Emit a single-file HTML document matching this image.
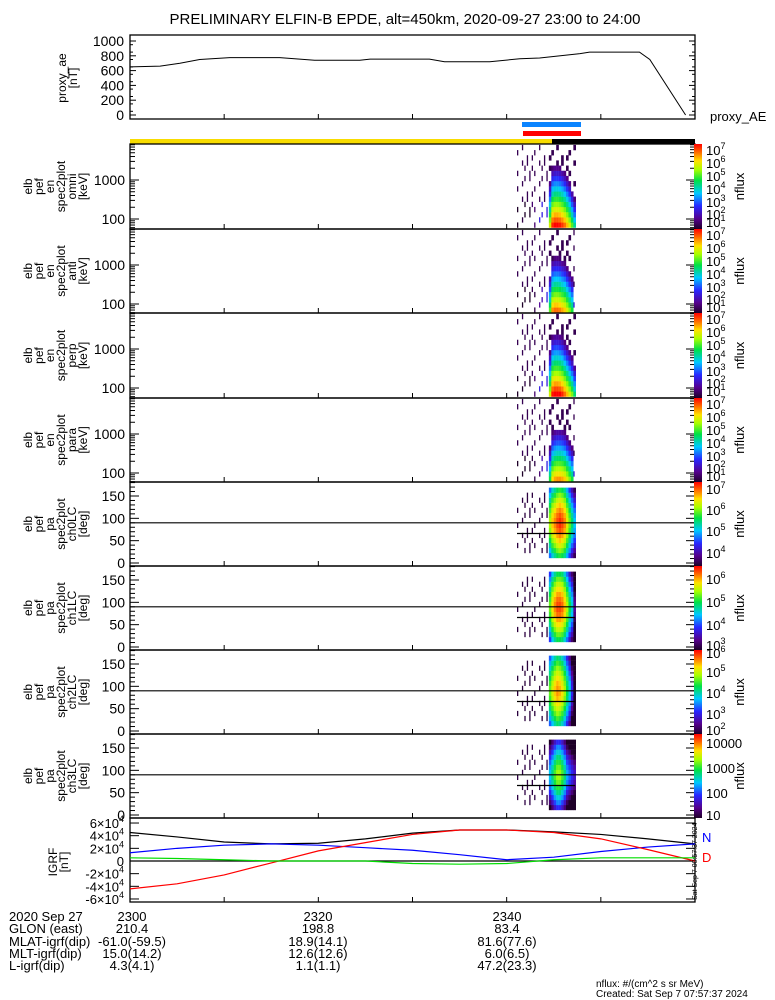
<!DOCTYPE html>
<html><head><meta charset="utf-8"><style>
html,body{margin:0;padding:0;background:#fff;}
svg{display:block;font-family:"Liberation Sans",sans-serif;}
</style></head><body>
<svg id="chart" width="775" height="1000" viewBox="0 0 775 1000" xmlns="http://www.w3.org/2000/svg">
<text x="405" y="24" font-size="15" text-anchor="middle">PRELIMINARY ELFIN-B EPDE, alt=450km, 2020-09-27 23:00 to 24:00</text>
<g id="g"></g>
</svg>
<script>
// ---- data ----
const aeMinutes = [0, 3.2, 5.3, 7.4, 10.6, 15.9, 19.6, 24.4, 25.5, 31.8, 33.4, 38.2, 41.4, 43.5, 47.8, 48.8, 54.1, 55.2, 59.0];
const aeValues  = [650, 660, 700, 750, 775, 775, 740, 740, 755, 755, 720, 720, 760, 770, 830, 850, 850, 750, 0];
const aeTicks = [0, 200, 400, 600, 800, 1000];
const igrfMinutes = [0, 5, 10, 15, 20, 25, 30, 35, 40, 45, 50, 55, 60];
const igrfTotal = [4.5, 3.8, 3.0, 2.7, 2.8, 3.5, 4.4, 4.9, 4.9, 4.6, 4.2, 3.5, 2.7];
const igrfN     = [1.3, 2.0, 2.5, 2.7, 2.5, 2.1, 1.7, 1.0, 0.2, 0.6, 1.5, 2.2, 2.7];
const igrfD     = [-4.4, -3.6, -2.2, -0.3, 1.6, 2.9, 4.2, 4.9, 4.9, 4.5, 3.5, 1.8, 0.0];
const igrfE     = [0.5, 0.4, 0.2, 0.0, 0.0, 0.0, -0.4, -0.5, -0.4, 0.2, 0.5, 0.5, 0.5];
const igrfTicks = [-6, -4, -2, 0, 2, 4, 6];
// spectrogram columns (log10 flux at lowest bin / at 90 deg)
const omniLow = [1,1,1.2,1,1.3,1,1.5,1.5,2.5,2.5,3,3.2,3.5,5.5,6.8,7,7,6.9,6.7,6.4,6,5.5,4.8,4];
const antiLow = [1,1,1,1,1.2,1,1.3,1.2,1.5,1.8,2,2,2.5,4.8,6.2,6.4,6.4,6.3,6.1,5.9,5.5,5,4.5,3.5];
const perpLow = [1,1,1,1.2,1.2,1,1.4,1.5,2.5,2.5,3,3,3.5,5.5,6.9,7.1,7.1,7,6.8,6.4,6,5.5,5,4.2];
const paraLow = [1,1,1,1,1,1,1.2,1.2,1.5,1.5,2,2,2.5,4.5,5.8,6.1,6.2,6.2,6.1,5.9,5.5,5,4.5,3.5];
const ch0Peak = [3,3,3.5,3,3.5,3.5,3.5,3.5,3.8,3.8,3.8,3.8,4,6,6.4,6.6,6.8,6.9,6.8,6.6,6.2,5.8,5.4,5];
const ch1Peak = [3,3,3,3,3,3,3.2,3,3.2,3.2,3.2,3.2,3.4,5.3,5.8,6.1,6.3,6.3,6.2,5.9,5.5,5,4.6,3.5];
const ch2Peak = [2,2,2,2,2,2,2.2,2,2.2,2.2,2.2,2.2,2.4,4.6,5,5.3,5.5,5.4,5.2,4.8,4.3,3.8,3,2];
const ch3Peak = [1.2,1.2,1.3,1.2,1.3,1.2,1.4,1.3,1.5,1.4,1.5,1.5,1.6,2.3,2.6,2.9,3.1,3.1,2.9,2.6,2.2,2,1.8,1.6];
const xTickMinutes = [0, 10, 20, 30, 40, 50, 60];
const rowLabels = ["2020 Sep 27","GLON (east)","MLAT-igrf(dip)","MLT-igrf(dip)","L-igrf(dip)"];
const col2300 = ["2300","210.4","-61.0(-59.5)","15.0(14.2)","4.3(4.1)"];
const col2320 = ["2320","198.8","18.9(14.1)","12.6(12.6)","1.1(1.1)"];
const col2340 = ["2340","83.4","81.6(77.6)","6.0(6.5)","47.2(23.3)"];

// ---- helpers ----
const NS = "http://www.w3.org/2000/svg";
const G = document.getElementById('g');
const X0 = 130, X1 = 695;
const xOf = m => X0 + (X1 - X0) * m / 60;
function el(tag, attrs, parent, txt) {
  const e = document.createElementNS(NS, tag);
  for (const k in attrs) e.setAttribute(k, attrs[k]);
  if (txt !== undefined) e.textContent = txt;
  (parent || G).appendChild(e);
  return e;
}
const stops = [[0,[30,0,40]],[0.12,[85,0,140]],[0.27,[40,40,255]],[0.42,[0,200,255]],[0.57,[0,225,70]],[0.7,[170,255,0]],[0.8,[255,225,0]],[0.9,[255,110,0]],[1,[255,0,0]]];
function cmap(t) {
  t = Math.max(0, Math.min(1, t));
  for (let i = 1; i < stops.length; i++) if (t <= stops[i][0]) {
    const a = stops[i-1], b = stops[i], f = (t - a[0]) / (b[0] - a[0]);
    const c = a[1].map((v, k) => Math.round(v + (b[1][k] - v) * f));
    return `rgb(${c[0]},${c[1]},${c[2]})`;
  }
  return 'rgb(255,0,0)';
}
const defs = el('defs', {});
const grad = el('linearGradient', {id: 'cb', x1: 0, y1: 1, x2: 0, y2: 0}, defs);
stops.forEach(s => { el('stop', {offset: s[0], 'stop-color': cmap(s[0])}, grad); });

function xTicks(top, bot) {
  xTickMinutes.forEach(m => {
    const t = el('line', {x1: xOf(m), x2: xOf(m), y1: bot, y2: bot - 5, stroke: '#000'});
    
    
  });
}
function frame(top, bot, name) {
  const r = el('rect', {x: X0, y: top, width: X1 - X0, height: bot - top, fill: 'none', stroke: '#000', 'stroke-width': 1.3});
  
  
  xTicks(top, bot);
}
function ylabel(lines, cx, cy, name) {
  const t = el('text', {transform: `translate(${cx},${cy}) rotate(-90)`, 'font-size': 12, 'text-anchor': 'middle'});
  
  
  lines.forEach((s, i) => el('tspan', {x: 0, dy: i ? 11 : 0}, t, s));
}
const speck = (i, j) => ((i * i * 3 + j * 5 + i * j * 2) % 7) < 2;

// ---- AE panel ----
const aeTop = 35, aeBot = 119;
const aeY = v => 115 - (115 - 41) * v / 1000;
frame(aeTop, aeBot, 'proxy-ae-panel');
aeTicks.forEach(v => {
  el('line', {x1: X0, x2: X0 + 6, y1: aeY(v), y2: aeY(v), stroke: '#000'});
  el('line', {x1: X1, x2: X1 - 6, y1: aeY(v), y2: aeY(v), stroke: '#000'});
  const t = el('text', {x: 124, y: aeY(v) + 5, 'font-size': 14, 'text-anchor': 'end'}, null, v);
  
  
});
for (let v = 50; v < 1000; v += 100) {
  el('line', {x1: X0, x2: X0 + 3, y1: aeY(v), y2: aeY(v), stroke: '#000'});
  el('line', {x1: X1, x2: X1 - 3, y1: aeY(v), y2: aeY(v), stroke: '#000'});
}
const aeLine = el('polyline', {points: aeMinutes.map((m, i) => xOf(m) + ',' + aeY(aeValues[i])).join(' '), fill: 'none', stroke: '#000', 'stroke-width': 1});


ylabel(['proxy_ae', '[nT]'], 66, 78, 'ae-y-axis-title');
const pae = el('text', {x: 710, y: 121, 'font-size': 13}, null, 'proxy_AE');



// bars
let b = el('rect', {x: 522, y: 122, width: 59, height: 5, fill: '#0a84ff'});  
b = el('rect', {x: 523, y: 131, width: 58, height: 5, fill: '#ff0000'});  
b = el('rect', {x: 130, y: 139, width: 422, height: 5, fill: '#f8dc00'});  
b = el('rect', {x: 552, y: 139, width: 143, height: 5, fill: '#000'});  

// ---- spectrogram panels ----
const COLX = 517, DX = 2.45;
function cbar(top, bot, labels, name) {
  const r = el('rect', {x: 694, y: top, width: 8, height: bot - top, fill: 'url(#cb)'});
  
  
  labels.forEach(l => {
    const t = el('text', {x: 706, y: l[1] + 5, 'font-size': 13}, null, l[0]);
    if (l[2]) el('tspan', {dy: -6, 'font-size': 9}, t, l[2]);
    
    
  });
  const n = el('text', {transform: `translate(${744},${(top + bot) / 2}) rotate(-90)`, 'font-size': 13, 'text-anchor': 'middle'}, null, 'nflux');
  
  
}
function energyPanel(top, bot, low, name, title) {
  frame(top, bot, name + '-panel');
  const yE = lg => top + 36 + (3 - lg) * 39;
  [2, 3].forEach(d => {
    const t = el('text', {x: 125, y: yE(d) + 5, 'font-size': 14, 'text-anchor': 'end'}, null, Math.pow(10, d));
     
  });
  for (let d = 1; d <= 3; d++) for (let k = 1; k <= 9; k++) {
    const y = yE(d + Math.log10(k));
    if (y < top || y > bot) continue;
    const L = k === 1 ? 9 : 5;
    el('line', {x1: X0, x2: X0 + L, y1: y, y2: y, stroke: '#000'});
    el('line', {x1: X1, x2: X1 - L, y1: y, y2: y, stroke: '#000'});
  }
  const NB = 16, lo = 1.78, hi = 3.9, bh = (hi - lo) / NB;
  low.forEach((v, i) => {
    for (let j = 0; j < NB; j++) {
      const lg = lo + j * bh;
      let f = v - 3.6 * (lg - lo);
      let w = DX + 0.2;
      if (v < 4) {
        if (!speck(i, j)) continue;
        f = j < 5 ? Math.min(v, 2.4) : 1.3; w = 1.3;
      } else if (f < 1.5) {
        if (!speck(i, j)) continue;
        f = 1.3;
      }
      const c = el('rect', {x: COLX + i * DX, y: yE(lg + bh), width: w, height: yE(lg) - yE(lg + bh) + 0.2, fill: cmap((f - 1) / 6)});
      
      
    }
  });
  ylabel(title, 32, (top + bot) / 2, name + '-y-axis-title');
  cbar(top, bot, [['10', top + 6, '7'], ['10', top + 19, '6'], ['10', top + 32, '5'], ['10', top + 45, '4'], ['10', top + 58, '3'], ['10', top + 70, '2'], ['10', top + 78, '1']], name);
}
function paPanel(top, bot, peak, minLog, maxLog, name, title, labels) {
  frame(top, bot, name + '-panel');
  const yP = p => top + 81 - p * 0.4467;
  [0, 50, 100, 150].forEach(p => {
    const t = el('text', {x: 125, y: yP(p) + 5, 'font-size': 14, 'text-anchor': 'end'}, null, p);
     
  });
  for (let p = 0; p <= 180; p += 10) {
    const L = p % 50 === 0 ? 9 : 5;
    el('line', {x1: X0, x2: X0 + L, y1: yP(p), y2: yP(p), stroke: '#000'});
    el('line', {x1: X1, x2: X1 - L, y1: yP(p), y2: yP(p), stroke: '#000'});
  }
  const NB = 16, bw = 180 / NB;
  peak.forEach((v, i) => {
    for (let j = 0; j < NB; j++) {
      const pa = j * bw + bw / 2;
      let f = v - 1.8 * Math.pow(Math.abs(pa - 90) / 90, 1.5);
      if (i < 13) { if (!speck(i, j) || j < 2 || j > 13) continue; f = minLog + 0.1; }
      else if (j < 1 || j > 14) continue;
      const c = el('rect', {x: COLX + i * DX, y: yP(pa + bw / 2), width: i < 13 ? 1.3 : DX + 0.2, height: bw * 0.4467 + 0.2, fill: cmap((f - minLog) / (maxLog - minLog))});
      
      
    }
  });
  el('line', {x1: X0, x2: X1, y1: yP(90), y2: yP(90), stroke: '#000', 'stroke-width': 1.2});
  el('line', {x1: 517, x2: 575, y1: yP(66), y2: yP(66), stroke: '#000', 'stroke-width': 1.2});
  ylabel(title, 32, (top + bot) / 2, name + '-y-axis-title');
  cbar(top, bot, labels, name);
}
energyPanel(144, 229, omniLow, 'omni', ['elb', 'pef', 'en', 'spec2plot', 'omni', '[keV]']);
energyPanel(229, 313, antiLow, 'anti', ['elb', 'pef', 'en', 'spec2plot', 'anti', '[keV]']);
energyPanel(313, 398, perpLow, 'perp', ['elb', 'pef', 'en', 'spec2plot', 'perp', '[keV]']);
energyPanel(398, 482, paraLow, 'para', ['elb', 'pef', 'en', 'spec2plot', 'para', '[keV]']);
paPanel(482, 566, ch0Peak, 3.5, 7, 'ch0lc', ['elb', 'pef', 'pa', 'spec2plot', 'ch0LC', '[deg]'], [['10', 489, '7'], ['10', 510, '6'], ['10', 531, '5'], ['10', 553, '4']]);
paPanel(566, 650, ch1Peak, 3, 6.5, 'ch1lc', ['elb', 'pef', 'pa', 'spec2plot', 'ch1LC', '[deg]'], [['10', 579, '6'], ['10', 602, '5'], ['10', 625, '4'], ['10', 645, '3']]);
paPanel(650, 734, ch2Peak, 2, 6, 'ch2lc', ['elb', 'pef', 'pa', 'spec2plot', 'ch2LC', '[deg]'], [['10', 653, '6'], ['10', 672, '5'], ['10', 693, '4'], ['10', 714, '3'], ['10', 730, '2']]);
paPanel(734, 818, ch3Peak, 1, 4, 'ch3lc', ['elb', 'pef', 'pa', 'spec2plot', 'ch3LC', '[deg]'], [['10000', 743], ['1000', 768], ['100', 793], ['10', 815]]);

// ---- IGRF panel ----
const gTop = 818, gBot = 902;
const gY = v => 861 - v * 6.33;
frame(gTop, gBot, 'igrf-panel');
igrfTicks.forEach(v => {
  el('line', {x1: X0, x2: X0 + 9, y1: gY(v), y2: gY(v), stroke: '#000'});
  el('line', {x1: X1, x2: X1 - 9, y1: gY(v), y2: gY(v), stroke: '#000'});
  const t = el('text', {x: 124, y: gY(v) + 5, 'font-size': 13, 'text-anchor': 'end'}, null, v === 0 ? '0' : v + '×10');
  if (v !== 0) el('tspan', {dy: -6, 'font-size': 9}, t, '4');
   
});
el('line', {x1: X0, x2: X1, y1: gY(0), y2: gY(0), stroke: '#000', 'stroke-width': 1.2});
[[igrfTotal, '#000', 'igrf-total-line'], [igrfN, '#0000ff', 'igrf-n-line'], [igrfD, '#ff0000', 'igrf-d-line'], [igrfE, '#00dd00', 'igrf-e-line']].forEach(s => {
  const p = el('polyline', {points: igrfMinutes.map((m, i) => xOf(m) + ',' + gY(s[0][i])).join(' '), fill: 'none', stroke: s[1], 'stroke-width': 1.2});
  
  
});
ylabel(['IGRF', '[nT]'], 57, 862, 'igrf-y-axis-title');
let t = el('text', {x: 702, y: 842, 'font-size': 13, fill: '#0000ff'}, null, 'N');  
t = el('text', {x: 702, y: 862, 'font-size': 13, fill: '#ff0000'}, null, 'D');  
t = el('text', {transform: 'translate(697,900) rotate(-90)', 'font-size': 7}, null, 'Sat Sep  7 00:57:37 2024');  

// ---- orbit text ----
const rowsY = [921, 933, 946, 958, 970];
rowLabels.forEach((s, i) => {
  t = el('text', {x: 9, y: rowsY[i], 'font-size': 13}, null, s);  
  [[col2300, 132], [col2320, 318], [col2340, 507]].forEach(c => {
    const q = el('text', {x: c[1], y: rowsY[i], 'font-size': 13, 'text-anchor': 'middle'}, null, c[0][i]);
     
  });
});
t = el('text', {x: 596, y: 987, 'font-size': 10}, null, 'nflux: #/(cm^2 s sr MeV)');  
t = el('text', {x: 596, y: 997, 'font-size': 10}, null, 'Created: Sat Sep  7 07:57:37 2024');  
</script>
</body></html>
